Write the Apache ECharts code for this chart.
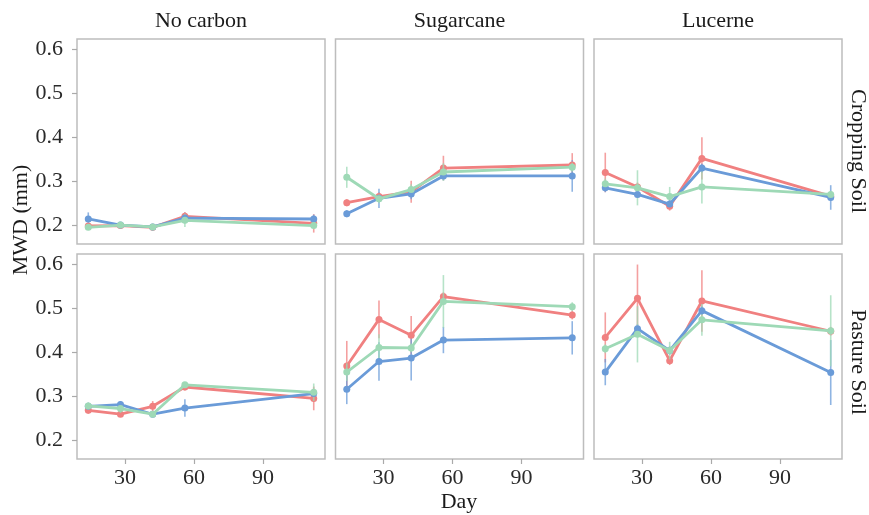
<!DOCTYPE html>
<html><head><meta charset="utf-8">
<script src="https://cdn.jsdelivr.net/npm/echarts@6/dist/echarts.min.js"></script>
<style>html,body{margin:0;padding:0;background:#fff}#c{width:869px;height:515px}</style>
</head><body><div id="c"></div>
<script>
// ---- data ----
const days = [14, 28, 42, 56, 112];
const carbonLabels = ['No carbon', 'Sugarcane', 'Lucerne'];
const soilLabels = ['Cropping Soil', 'Pasture Soil'];
const xTicks = [30, 60, 90];
const yTicks = [0.2, 0.3, 0.4, 0.5, 0.6];

// Cropping soil - No carbon
const cropNoneRed = [0.198, 0.199, 0.195, 0.220, 0.204];
const cropNoneRedErr = [0.006, 0.005, 0.007, 0.010, 0.021];
const cropNoneBlue = [0.214, 0.200, 0.196, 0.216, 0.214];
const cropNoneBlueErr = [0.015, 0.004, 0.005, 0.012, 0.010];
const cropNoneGreen = [0.195, 0.200, 0.196, 0.211, 0.199];
const cropNoneGreenErr = [0.005, 0.004, 0.006, 0.015, 0.008];
// Cropping soil - Sugarcane
const cropSugRed = [0.251, 0.265, 0.276, 0.330, 0.337];
const cropSugRedErr = [0.008, 0.010, 0.025, 0.028, 0.027];
const cropSugBlue = [0.226, 0.261, 0.271, 0.312, 0.312];
const cropSugBlueErr = [0.008, 0.022, 0.012, 0.010, 0.036];
const cropSugGreen = [0.309, 0.260, 0.281, 0.321, 0.332];
const cropSugGreenErr = [0.024, 0.010, 0.012, 0.020, 0.010];
// Cropping soil - Lucerne
const cropLucRed = [0.320, 0.287, 0.243, 0.352, 0.266];
const cropLucRedErr = [0.045, 0.010, 0.010, 0.048, 0.008];
const cropLucBlue = [0.285, 0.270, 0.248, 0.330, 0.263];
const cropLucBlueErr = [0.010, 0.008, 0.010, 0.010, 0.028];
const cropLucGreen = [0.294, 0.285, 0.265, 0.287, 0.270];
const cropLucGreenErr = [0.012, 0.040, 0.022, 0.038, 0.008];
// Pasture soil - No carbon
const pastNoneRed = [0.268, 0.259, 0.277, 0.321, 0.295];
const pastNoneRedErr = [0.008, 0.006, 0.012, 0.008, 0.027];
const pastNoneBlue = [0.277, 0.281, 0.259, 0.273, 0.306];
const pastNoneBlueErr = [0.006, 0.008, 0.006, 0.020, 0.010];
const pastNoneGreen = [0.278, 0.272, 0.259, 0.326, 0.309];
const pastNoneGreenErr = [0.008, 0.010, 0.005, 0.006, 0.020];
// Pasture soil - Sugarcane
const pastSugRed = [0.369, 0.475, 0.439, 0.527, 0.485];
const pastSugRedErr = [0.057, 0.043, 0.044, 0.010, 0.010];
const pastSugBlue = [0.316, 0.379, 0.387, 0.428, 0.433];
const pastSugBlueErr = [0.034, 0.044, 0.051, 0.030, 0.038];
const pastSugGreen = [0.355, 0.411, 0.410, 0.516, 0.504];
const pastSugGreenErr = [0.020, 0.030, 0.010, 0.060, 0.010];
// Pasture soil - Lucerne
const pastLucRed = [0.434, 0.523, 0.381, 0.517, 0.448];
const pastLucRedErr = [0.057, 0.077, 0.010, 0.070, 0.010];
const pastLucBlue = [0.355, 0.454, 0.404, 0.495, 0.354];
const pastLucBlueErr = [0.030, 0.010, 0.010, 0.010, 0.074];
const pastLucGreen = [0.408, 0.441, 0.404, 0.474, 0.449];
const pastLucGreenErr = [0.010, 0.064, 0.020, 0.036, 0.081];

const panels = [
  [[cropNoneRed, cropNoneRedErr], [cropNoneBlue, cropNoneBlueErr], [cropNoneGreen, cropNoneGreenErr]],
  [[cropSugRed, cropSugRedErr], [cropSugBlue, cropSugBlueErr], [cropSugGreen, cropSugGreenErr]],
  [[cropLucRed, cropLucRedErr], [cropLucBlue, cropLucBlueErr], [cropLucGreen, cropLucGreenErr]],
  [[pastNoneRed, pastNoneRedErr], [pastNoneBlue, pastNoneBlueErr], [pastNoneGreen, pastNoneGreenErr]],
  [[pastSugRed, pastSugRedErr], [pastSugBlue, pastSugBlueErr], [pastSugGreen, pastSugGreenErr]],
  [[pastLucRed, pastLucRedErr], [pastLucBlue, pastLucBlueErr], [pastLucGreen, pastLucGreenErr]]
];

// ---- layout / style ----
const colors = ['#F08080', '#6A9BD8', '#9ED9B6'];
const FONT = '"Liberation Serif", "DejaVu Serif", serif';
const lefts = [77, 335.5, 594];
const tops = [39, 254];
const W = 248, H = 205;
const xMin = 9.1, xMax = 116.9, yMin = 0.157, yMax = 0.624;

const grids = [], xAxes = [], yAxes = [], series = [];
for (let r = 0; r < 2; r++) {
  for (let c = 0; c < 3; c++) {
    const i = r * 3 + c;
    grids.push({left: lefts[c], top: tops[r], width: W, height: H, show: true,
      borderColor: '#BDBDBD', borderWidth: 1.5, backgroundColor: 'transparent'});
    xAxes.push({type: 'value', gridIndex: i, min: xMin, max: xMax,
      splitLine: {show: false}, axisLine: {show: false},
      axisTick: {show: r === 1, length: 5, lineStyle: {color: '#AAAAAA', width: 1.2}, customValues: xTicks},
      axisLabel: {show: r === 1, margin: 8, color: '#2a2a2a', fontFamily: FONT, fontSize: 22, customValues: xTicks}
    });
    yAxes.push({type: 'value', gridIndex: i, min: yMin, max: yMax,
      splitLine: {show: false}, axisLine: {show: false},
      axisTick: {show: c === 0, length: 5, lineStyle: {color: '#AAAAAA', width: 1.2}, customValues: yTicks},
      axisLabel: {show: c === 0, margin: 14, color: '#2a2a2a', fontFamily: FONT, fontSize: 22,
        customValues: yTicks, formatter: v => v.toFixed(1)}
    });
    panels[i].forEach((s, k) => {
      const [mean, err] = s;
      series.push({
        type: 'custom', xAxisIndex: i, yAxisIndex: i, z: 2 + k,
        data: days.map((d, j) => [d, mean[j] - err[j], mean[j] + err[j]]),
        renderItem: (params, api) => {
          const p1 = api.coord([api.value(0), api.value(1)]);
          const p2 = api.coord([api.value(0), api.value(2)]);
          return {type: 'line', shape: {x1: p1[0], y1: p1[1], x2: p2[0], y2: p2[1]},
            style: {stroke: colors[k], lineWidth: 1.6, opacity: 0.75}};
        },
        silent: true
      });
      series.push({
        type: 'line', xAxisIndex: i, yAxisIndex: i, z: 3 + k,
        data: days.map((d, j) => [d, mean[j]]),
        symbol: 'circle', symbolSize: 7, showSymbol: true,
        lineStyle: {color: colors[k], width: 2.8},
        itemStyle: {color: colors[k]},
        animation: false, silent: true
      });
    });
  }
}

const stripY = [151, 362];
const graphic = [];
carbonLabels.forEach((t, c) => graphic.push({type: 'text', x: lefts[c] + W / 2, y: 21,
  style: {text: t, textAlign: 'center', textVerticalAlign: 'middle', font: '22px ' + FONT, fill: '#1a1a1a'}}));
soilLabels.forEach((t, r) => graphic.push({type: 'text', x: 858, y: stripY[r], rotation: -Math.PI / 2,
  style: {text: t, textAlign: 'center', textVerticalAlign: 'middle', font: '22px ' + FONT, fill: '#1a1a1a'}}));
graphic.push({type: 'text', x: 21, y: 220, rotation: Math.PI / 2,
  style: {text: 'MWD (mm)', textAlign: 'center', textVerticalAlign: 'middle', font: '22px ' + FONT, fill: '#1a1a1a'}});
graphic.push({type: 'text', x: 459, y: 502,
  style: {text: 'Day', textAlign: 'center', textVerticalAlign: 'middle', font: '22px ' + FONT, fill: '#1a1a1a'}});

const chart = echarts.init(document.getElementById('c'), null, {renderer: 'canvas'});
chart.setOption({animation: false, backgroundColor: '#fff', grid: grids, xAxis: xAxes, yAxis: yAxes, series, graphic});
</script>
</body></html>
